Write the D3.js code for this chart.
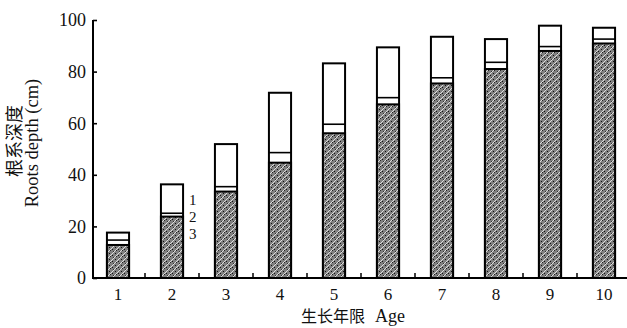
<!DOCTYPE html>
<html>
<head>
<meta charset="utf-8">
<script src="https://cdn.jsdelivr.net/npm/d3@7"></script>
<style>
  body { margin: 0; background: #fff; }
  text { font-family: "Liberation Serif", "DejaVu Serif", serif; fill: #111; }
  .cjk { font-family: "Noto Sans CJK SC", sans-serif; }
</style>
</head>
<body>
<div id="chart"></div>
<script>
// growth years
var ages = [1, 2, 3, 4, 5, 6, 7, 8, 9, 10];
// top of layer 3 (stippled), top of layer 2 (thin band), top of layer 1 (total depth), cm
var layer3Top = [12.8, 23.8, 33.5, 44.7, 56.1, 67.3, 75.4, 81.0, 88.0, 90.9];
var layer2Top = [14.7, 25.1, 35.4, 48.6, 59.6, 69.9, 77.6, 83.6, 89.7, 92.6];
var layer1Top = [17.6, 36.3, 51.9, 71.8, 83.2, 89.4, 93.5, 92.6, 97.8, 97.0];
var yTicks = [0, 20, 40, 60, 80, 100];
var layerLabels = ["1", "2", "3"];

const svgWidth = 627;
const svgHeight = 328;

var svg = d3.select("#chart").append("svg")
    .attr("width", svgWidth)
    .attr("height", svgHeight);

// stipple texture for layer 3
var defs = svg.append("defs");
var pat = defs.append("pattern")
    .attr("id", "stipple")
    .attr("patternUnits", "userSpaceOnUse")
    .attr("width", 6)
    .attr("height", 6);
pat.append("rect").attr("width", 6).attr("height", 6).attr("fill", "#808080");
pat.append("path").attr("d", "M0,6 L6,0").attr("stroke", "#e8e8e8").attr("stroke-width", 0.9);
pat.append("rect").attr("x", 1).attr("y", 1).attr("width", 1).attr("height", 1).attr("fill", "#111");
pat.append("rect").attr("x", 4).attr("y", 3).attr("width", 1).attr("height", 1).attr("fill", "#111");
pat.append("rect").attr("x", 2).attr("y", 4).attr("width", 1).attr("height", 1).attr("fill", "#222");
pat.append("rect").attr("x", 5).attr("y", 5).attr("width", 1).attr("height", 1).attr("fill", "#333");

var x = d3.scaleBand()
    .domain(ages)
    .range([91, 631])
    .paddingInner(0.59)
    .paddingOuter(0.295);

var y = d3.scaleLinear()
    .domain([0, 100])
    .range([278, 20]);

var data = ages.map(function(a, i) {
    return {age: a, l3: layer3Top[i], l2: layer2Top[i], l1: layer1Top[i]};
});

var bars = svg.selectAll(".bar")
    .data(data)
    .enter()
    .append("g")
    .attr("class", "bar");

// whole bar outline (layer 1 white)
bars.append("rect")
    .attr("x", function(d) { return x(d.age); })
    .attr("y", function(d) { return y(d.l1); })
    .attr("width", x.bandwidth())
    .attr("height", function(d) { return y(0) - y(d.l1); })
    .attr("fill", "#fff")
    .attr("stroke", "#000")
    .attr("stroke-width", 2);

// layer 3 stippled
bars.append("rect")
    .attr("x", function(d) { return x(d.age); })
    .attr("y", function(d) { return y(d.l3); })
    .attr("width", x.bandwidth())
    .attr("height", function(d) { return y(0) - y(d.l3); })
    .attr("fill", "url(#stipple)")
    .attr("stroke", "#000")
    .attr("stroke-width", 2);

// top line of layer 2
bars.append("line")
    .attr("x1", function(d) { return x(d.age); })
    .attr("x2", function(d) { return x(d.age) + x.bandwidth(); })
    .attr("y1", function(d) { return y(d.l2); })
    .attr("y2", function(d) { return y(d.l2); })
    .attr("stroke", "#000")
    .attr("stroke-width", 1.6);

// y axis
var yAxis = svg.append("g")
    .attr("transform", "translate(93,0)")
    .call(d3.axisRight(y).tickValues(yTicks).tickSize(4).tickFormat(""));
yAxis.select(".domain").attr("stroke-width", 2).attr("d", "M0," + y(100) + "V" + y(0));
yAxis.selectAll(".tick line").attr("stroke-width", 1.6);

svg.selectAll(".ylab")
    .data(yTicks)
    .enter()
    .append("text")
    .attr("x", 86)
    .attr("y", function(d) { return y(d); })
    .attr("dy", "0.35em")
    .attr("text-anchor", "end")
    .attr("font-size", 18)
    .text(function(d) { return d; });

// x axis
svg.append("line")
    .attr("x1", 92).attr("x2", 627)
    .attr("y1", y(0)).attr("y2", y(0))
    .attr("stroke", "#000").attr("stroke-width", 2);

// small upward ticks between bars
svg.selectAll(".xminor")
    .data(ages.slice(0, 9))
    .enter()
    .append("line")
    .attr("x1", function(d) { return x(d) + x.bandwidth() / 2 + x.step() / 2; })
    .attr("x2", function(d) { return x(d) + x.bandwidth() / 2 + x.step() / 2; })
    .attr("y1", y(0))
    .attr("y2", y(0) - 5)
    .attr("stroke", "#000")
    .attr("stroke-width", 1.5);

svg.selectAll(".xlab")
    .data(ages)
    .enter()
    .append("text")
    .attr("x", function(d) { return x(d) + x.bandwidth() / 2; })
    .attr("y", 300)
    .attr("text-anchor", "middle")
    .attr("font-size", 17)
    .text(function(d) { return d; });

// layer labels beside bar 2
svg.selectAll(".layerlab")
    .data(layerLabels)
    .enter()
    .append("text")
    .attr("x", x(2) + x.bandwidth() + 6)
    .attr("y", function(d, i) { return 204.5 + i * 17; })
    .attr("font-size", 15)
    .text(function(d) { return d; });

// axis titles
var xTitle = svg.append("text")
    .attr("x", 353)
    .attr("y", 322)
    .attr("text-anchor", "middle")
    .attr("font-size", 18);
xTitle.append("tspan").attr("class", "cjk").attr("font-size", 16).text("生长年限");
xTitle.append("tspan").attr("dx", 10).text("Age");

svg.append("text")
    .attr("class", "cjk")
    .attr("transform", "translate(21,141) rotate(-90)")
    .attr("text-anchor", "middle")
    .attr("font-size", 18)
    .text("根系深度");

svg.append("text")
    .attr("transform", "translate(38,143) rotate(-90)")
    .attr("text-anchor", "middle")
    .attr("font-size", 18.5)
    .text("Roots depth (cm)");
</script>
</body>
</html>
